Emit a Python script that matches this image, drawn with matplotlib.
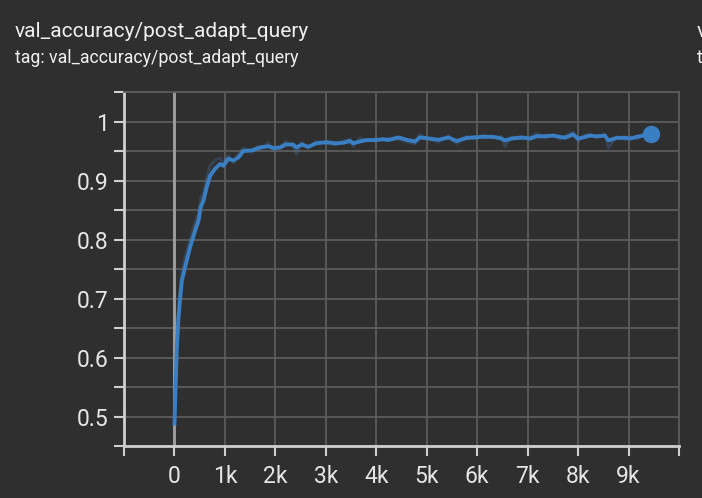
import numpy as np
import matplotlib.pyplot as plt

# smoothed run read from the TensorBoard card
steps = [0, 47, 80, 146, 210, 310, 410, 477, 522, 575, 640, 707, 806, 905, 970,
         1069, 1168, 1267, 1366, 1533, 1632, 1690, 1860, 1960, 2100, 2200, 2350,
         2420, 2520, 2650, 2810, 3010, 3200, 3350, 3480, 3540, 3670, 3800, 4000,
         4140, 4240, 4440, 4600, 4770, 4860, 5060, 5230, 5430, 5590, 5790, 5920,
         6120, 6320, 6480, 6550, 6680, 6880, 7050, 7180, 7340, 7510, 7640, 7740,
         7900, 8000, 8100, 8230, 8370, 8530, 8600, 8760, 8930, 9030, 9160, 9290,
         9450]
smoothed = [0.488, 0.617, 0.668, 0.730, 0.753, 0.787, 0.815, 0.832, 0.855, 0.866,
            0.889, 0.908, 0.920, 0.928, 0.925, 0.937, 0.934, 0.939, 0.950, 0.951,
            0.954, 0.956, 0.958, 0.955, 0.956, 0.961, 0.961, 0.956, 0.961, 0.957,
            0.963, 0.965, 0.963, 0.964, 0.967, 0.963, 0.966, 0.9685, 0.9685, 0.970,
            0.9685, 0.973, 0.969, 0.966, 0.973, 0.971, 0.969, 0.973, 0.967, 0.972,
            0.973, 0.974, 0.974, 0.971, 0.968, 0.971, 0.973, 0.971, 0.975, 0.975,
            0.976, 0.974, 0.9725, 0.978, 0.971, 0.973, 0.976, 0.975, 0.976, 0.968,
            0.972, 0.9725, 0.971, 0.974, 0.976, 0.978]
# faint raw values (spikes around the smoothed line)
raw = [0.488, 0.630, 0.690, 0.745, 0.770, 0.800, 0.830, 0.845, 0.870, 0.880,
       0.905, 0.925, 0.935, 0.938, 0.930, 0.942, 0.930, 0.945, 0.955, 0.948,
       0.957, 0.952, 0.965, 0.950, 0.958, 0.966, 0.958, 0.944, 0.965, 0.955,
       0.966, 0.963, 0.960, 0.967, 0.970, 0.958, 0.972, 0.967, 0.971, 0.968,
       0.972, 0.970, 0.966, 0.962, 0.978, 0.969, 0.965, 0.976, 0.962, 0.975,
       0.970, 0.977, 0.972, 0.975, 0.957, 0.974, 0.970, 0.973, 0.980, 0.972,
       0.978, 0.970, 0.975, 0.982, 0.966, 0.975, 0.979, 0.972, 0.979, 0.955,
       0.975, 0.969, 0.974, 0.970, 0.978, 0.978]

title = "val_accuracy/post_adapt_query"
tag = "tag: val_accuracy/post_adapt_query"
xticks = np.arange(-1000, 10001, 1000)
xlabels = ["", "0", "1k", "2k", "3k", "4k", "5k", "6k", "7k", "8k", "9k", ""]
yticks = np.arange(0.45, 1.051, 0.05)
ylabels = ["", "0.5", "", "0.6", "", "0.7", "", "0.8", "", "0.9", "", "1", ""]

bg = "#2f2f2f"
blue = "#3a7fc4"
plt.rcParams["font.family"] = ["Roboto", "DejaVu Sans"]

fig = plt.figure(figsize=(7.02, 4.98), dpi=100, facecolor=bg)
W, H = 702, 498
ax = fig.add_axes([124 / W, (H - 446) / H, (679 - 124) / W, (446 - 92) / H])
ax.set_facecolor(bg)

ax.plot(steps, raw, color="#4a86c0", lw=2, alpha=0.25, zorder=3)
ax.plot(steps, smoothed, color=blue, lw=2.8, zorder=4, solid_joinstyle="round")
ax.plot(steps[-1], smoothed[-1], "o", color=blue, ms=11.5, zorder=5)
ax.axvline(0, color="#9a9a9a", lw=2.2, zorder=2)

ax.set_xlim(-1000, 10000)
ax.set_ylim(0.45, 1.05)
ax.set_xticks(xticks)
ax.set_xticklabels(xlabels)
ax.set_yticks(yticks)
ax.set_yticklabels(ylabels)
ax.grid(True, color="#5c5c5c", lw=1.3, zorder=1)
ax.tick_params(colors="#cfcfcf", labelcolor="#e6e6e6", labelsize=16.5,
               length=7, width=1.5, direction="out")
ax.tick_params(axis="y", pad=4)
ax.tick_params(axis="x", pad=7)
for s in ["left", "bottom"]:
    ax.spines[s].set_color("#cfcfcf")
    ax.spines[s].set_linewidth(2)
for s in ["top", "right"]:
    ax.spines[s].set_color("#5c5c5c")
    ax.spines[s].set_linewidth(1.3)

fig.text(15 / W, 1 - 37 / H, title, color="#f0f0f0", fontsize=15, va="baseline")
fig.text(15 / W, 1 - 63 / H, tag, color="#f0f0f0", fontsize=12.8, va="baseline")
# next card peeking in at the right edge
fig.text(697 / W, 1 - 37 / H, "val_accuracy", color="#f0f0f0", fontsize=15, va="baseline")
fig.text(697 / W, 1 - 63 / H, "tag: val_accuracy", color="#f0f0f0", fontsize=12.8, va="baseline")

fig.savefig("out.png", dpi=100, facecolor=bg)
